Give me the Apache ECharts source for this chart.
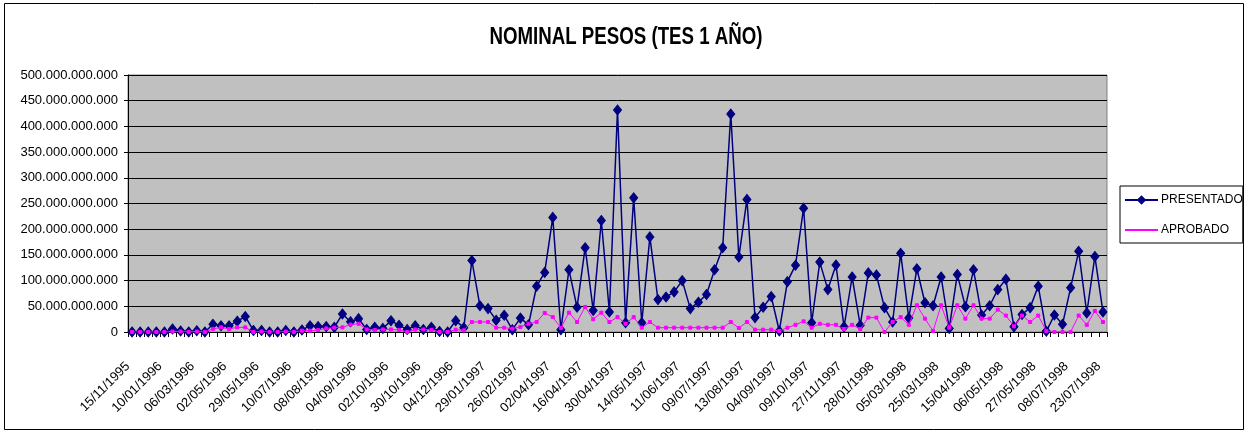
<!DOCTYPE html>
<html>
<head>
<meta charset="utf-8">
<script src="https://cdn.jsdelivr.net/npm/echarts@6/dist/echarts.min.js"></script>
<style>html,body{margin:0;padding:0;background:#fff}#c{width:1248px;height:434px}</style>
</head>
<body>
<div id="c"></div>
<script>
const categories = [
"15/11/1995","22/11/1995","29/11/1995","13/12/1995","10/01/1996","24/01/1996","07/02/1996","21/02/1996",
"06/03/1996","20/03/1996","10/04/1996","17/04/1996","02/05/1996","08/05/1996","15/05/1996","22/05/1996",
"29/05/1996","12/06/1996","19/06/1996","26/06/1996","10/07/1996","17/07/1996","24/07/1996","31/07/1996",
"08/08/1996","14/08/1996","21/08/1996","28/08/1996","04/09/1996","11/09/1996","18/09/1996","25/09/1996",
"02/10/1996","09/10/1996","16/10/1996","23/10/1996","30/10/1996","13/11/1996","20/11/1996","27/11/1996",
"04/12/1996","11/12/1996","15/01/1997","22/01/1997","29/01/1997","05/02/1997","12/02/1997","19/02/1997",
"26/02/1997","05/03/1997","12/03/1997","19/03/1997","02/04/1997","04/04/1997","09/04/1997","11/04/1997",
"16/04/1997","18/04/1997","23/04/1997","25/04/1997","30/04/1997","02/05/1997","07/05/1997","09/05/1997",
"14/05/1997","21/05/1997","28/05/1997","04/06/1997","11/06/1997","18/06/1997","25/06/1997","02/07/1997",
"09/07/1997","16/07/1997","23/07/1997","30/07/1997","13/08/1997","20/08/1997","27/08/1997","29/08/1997",
"04/09/1997","11/09/1997","18/09/1997","25/09/1997","09/10/1997","22/10/1997","05/11/1997","19/11/1997",
"27/11/1997","10/12/1997","17/12/1997","14/01/1998","28/01/1998","04/02/1998","11/02/1998","25/02/1998",
"05/03/1998","11/03/1998","18/03/1998","20/03/1998","25/03/1998","01/04/1998","03/04/1998","08/04/1998",
"15/04/1998","22/04/1998","29/04/1998","04/05/1998","06/05/1998","13/05/1998","20/05/1998","22/05/1998",
"27/05/1998","03/06/1998","17/06/1998","01/07/1998","08/07/1998","10/07/1998","15/07/1998","17/07/1998",
"23/07/1998"
];
// values in thousands of millions of pesos (x 1.000.000.000)
const presentado = [
0,0,0,0,0,6,2,0,2.5,0,15,12,12,21,30,3,3,0,0,3,0,4,12,10.5,10.5,9,35,20,26,5,9,7,22,13,5,12,5,9,1,0,22,
8.4,139,51,45.5,23,32.5,4.5,27,14,89,116,223,4.5,121,48,164,42,217,39,432,18,261,18,185,63,68,78,100,45.5,58,73,121,164,424,146,258,28,48,69,2,
98,130,241,18,136,82.5,130.5,10,107,13,115,111,47.4,19.5,153,27,123,57,51,107,7,112,49,121,33,51,82.5,102.6,10,34,47.4,89,1.3,33,15,86,157,37,147,39
];
const aprobado = [
0,0,0,0,0,1,1,0,1,0,6,9,6,9,9,0,1,0,0,1,0,2.6,2.6,4,7,8.5,9,14.5,16,5,4,5,5,4,0,5,5,4,0,0,4.5,
3.2,19.5,19.5,19.5,8.4,8.4,6.5,9.7,16,19.5,37,29,7.8,37.7,19.5,48.7,24.7,37.7,19.5,29,16,29,8.4,19.5,8.4,8.4,8.4,8.4,8.4,8.4,8.4,8.4,8.4,19.5,7.8,19.5,4.5,4.5,4.5,2,
8.4,14,20.8,8.4,16,14,14,5.8,14,5.8,28,28,0,19.5,29,14,52,26,2,52,8.4,52,26,52,26,26,43.5,32,11,32,19.5,32,2,0,0,0,32,14,41,19.5
];
const seriesNames = ["PRESENTADO","APROBADO"];
const titleText = "NOMINAL PESOS (TES 1 AÑO)";
const SCALE = 1e9;

function fmt(v){
  const n = Math.round(v*SCALE);
  return String(n).replace(/\B(?=(\d{3})+(?!\d))/g, '.');
}
const FONT = "'Liberation Sans', Arial, sans-serif";

const chart = echarts.init(document.getElementById('c'), null, {renderer:'canvas'});
chart.setOption({
  animation:false,
  backgroundColor:'#ffffff',
  graphic:[{
    type:'rect', shape:{x:4.5,y:3.5,width:1239,height:426},
    style:{fill:'none', stroke:'#000', lineWidth:1}, silent:true, z:-1
  },{
    type:'text', x:626, y:37, scaleY:1.3, silent:true,
    style:{text:titleText, fontFamily:FONT, fontWeight:'bold', fontSize:18.7, fill:'#000',
           align:'center', verticalAlign:'middle'}
  }],
  legend:{
    orient:'vertical', left:1120, top:186,
    itemWidth:33, itemHeight:12, itemGap:18,
    padding:[8,0,7,4],
    borderColor:'#000', borderWidth:1, backgroundColor:'#fff',
    textStyle:{fontFamily:FONT, fontSize:12, color:'#000', padding:[0,0,0,-2]},
    data:[{name:seriesNames[0]},{name:seriesNames[1], itemStyle:{opacity:0}}]
  },
  grid:{
    left:128, right:141, top:75, bottom:102,
    show:true, backgroundColor:'#c0c0c0', borderColor:'#808080', borderWidth:1
  },
  xAxis:{
    type:'category', data:categories, boundaryGap:true,
    axisLine:{show:true, lineStyle:{color:'#000', width:1}},
    axisTick:{show:true, interval:0, length:5, inside:false, lineStyle:{color:'#000'}},
    axisLabel:{interval:3, rotate:45, margin:28, padding:[0,6,0,0], fontFamily:FONT, fontSize:13, color:'#000'},
    splitLine:{show:false}
  },
  yAxis:{
    type:'value', min:0, max:500, interval:50,
    axisLine:{show:true, lineStyle:{color:'#000', width:1}},
    axisTick:{show:true, length:4, lineStyle:{color:'#000'}},
    axisLabel:{margin:10, fontFamily:FONT, fontSize:13, color:'#000', formatter:fmt},
    splitLine:{show:true, lineStyle:{color:'#000', width:1}}
  },
  series:[
    {
      name:seriesNames[0], type:'line', data:presentado,
      symbol:'diamond', symbolSize:[8,10], showAllSymbol:true,
      lineStyle:{color:'#000080', width:1.5},
      itemStyle:{color:'#000080', borderColor:'#000080'},
      z:2
    },
    {
      name:seriesNames[1], type:'line', data:aprobado,
      symbol:'rect', symbolSize:3, showAllSymbol:true,
      lineStyle:{color:'#ff00ff', width:1},
      itemStyle:{color:'#ff00ff', borderColor:'#ff00ff'},
      z:3
    }
  ]
});
</script>
</body>
</html>
